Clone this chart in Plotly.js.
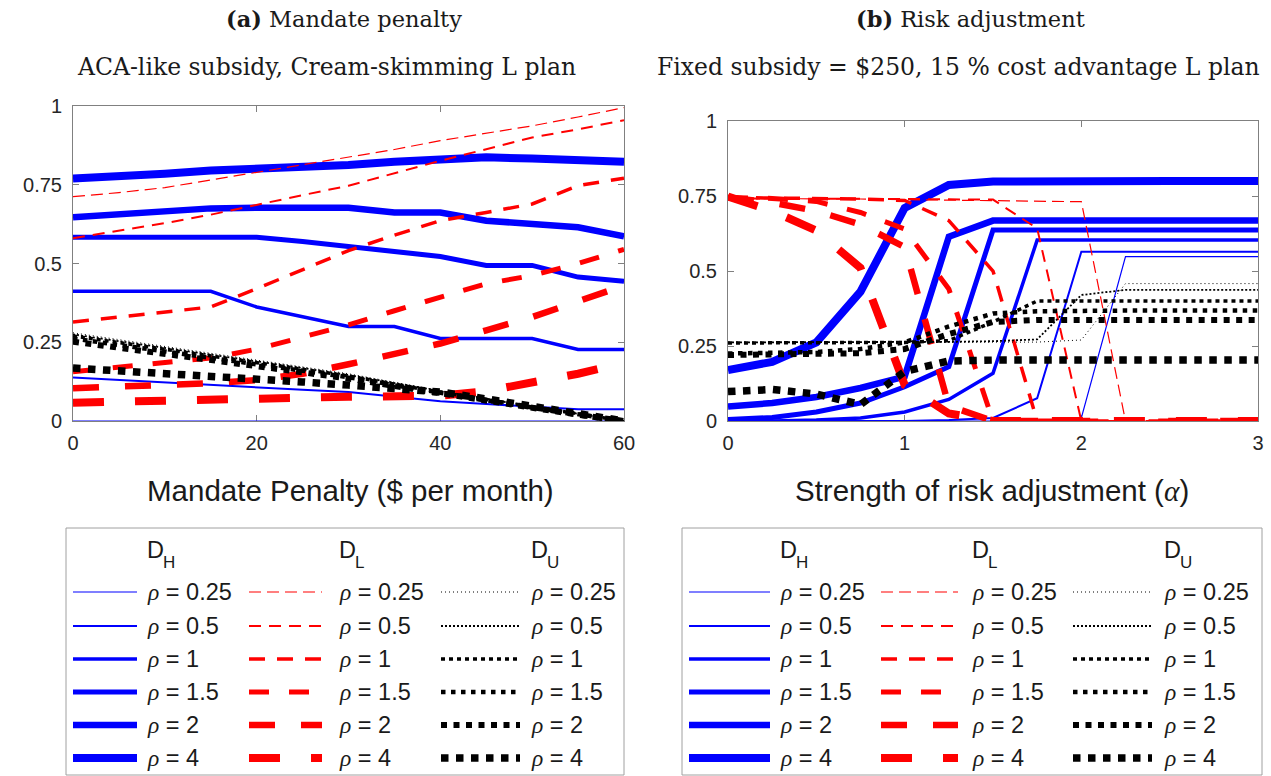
<!DOCTYPE html>
<html>
<head>
<meta charset="utf-8">
<script src="https://cdn.plot.ly/plotly-3.0.1.min.js"></script>
<style>
html,body{margin:0;padding:0;background:#fff;}
#chart{width:1271px;height:776px;}
</style>
</head>
<body>
<div id="chart"></div>
<script>
// ---------------- DATA ----------------
const rhoLabels = ['0.25', '0.5', '1', '1.5', '2', '4'];
const groupLetters = ['H', 'L', 'U'];

// Panel (a): mandate penalty ($ per month)
const penalty = [0, 5, 10, 15, 20, 25, 30, 35, 40, 45, 50, 55, 60];
const penaltyTicks = [0, 20, 40, 60];

const DH_a_025 = [0, 0, 0, 0, 0, 0, 0, 0, 0, 0, 0, 0, 0];
const DH_a_05  = [0.138, 0.130, 0.122, 0.113, 0.105, 0.099, 0.092, 0.078, 0.063, 0.054, 0.045, 0.037, 0.037];
const DH_a_1   = [0.412, 0.412, 0.412, 0.412, 0.362, 0.332, 0.300, 0.300, 0.262, 0.262, 0.262, 0.227, 0.227];
const DH_a_15  = [0.583, 0.583, 0.583, 0.583, 0.583, 0.570, 0.555, 0.540, 0.522, 0.494, 0.494, 0.457, 0.444];
const DH_a_2   = [0.647, 0.655, 0.665, 0.675, 0.677, 0.677, 0.677, 0.662, 0.662, 0.636, 0.625, 0.615, 0.586];
const DH_a_4   = [0.770, 0.775, 0.785, 0.795, 0.800, 0.805, 0.813, 0.823, 0.832, 0.837, 0.833, 0.828, 0.823];

const DL_a_025 = [0.712, 0.725, 0.741, 0.765, 0.790, 0.813, 0.836, 0.862, 0.890, 0.913, 0.937, 0.965, 0.995];
const DL_a_05  = [0.580, 0.603, 0.628, 0.655, 0.687, 0.717, 0.747, 0.787, 0.826, 0.863, 0.900, 0.926, 0.955];
const DL_a_1   = [0.314, 0.330, 0.346, 0.362, 0.420, 0.480, 0.541, 0.590, 0.636, 0.662, 0.689, 0.747, 0.771];
const DL_a_15  = [0.156, 0.170, 0.185, 0.200, 0.228, 0.265, 0.305, 0.350, 0.393, 0.436, 0.462, 0.500, 0.545];
const DL_a_2   = [0.104, 0.108, 0.113, 0.120, 0.130, 0.150, 0.180, 0.215, 0.246, 0.288, 0.330, 0.380, 0.430];
const DL_a_4   = [0.058, 0.060, 0.063, 0.067, 0.070, 0.074, 0.077, 0.077, 0.080, 0.095, 0.120, 0.150, 0.185];

const DU_a_025 = [0.280, 0.258, 0.236, 0.215, 0.194, 0.172, 0.150, 0.123, 0.096, 0.072, 0.048, 0.024, 0.0];
const DU_a_05  = [0.275, 0.254, 0.232, 0.211, 0.190, 0.168, 0.146, 0.120, 0.094, 0.070, 0.046, 0.022, 0.0];
const DU_a_1   = [0.270, 0.249, 0.228, 0.207, 0.186, 0.165, 0.143, 0.117, 0.091, 0.068, 0.045, 0.021, 0.0];
const DU_a_15  = [0.262, 0.242, 0.222, 0.201, 0.181, 0.160, 0.139, 0.114, 0.089, 0.066, 0.043, 0.020, 0.0];
const DU_a_2   = [0.252, 0.233, 0.214, 0.194, 0.175, 0.155, 0.135, 0.111, 0.087, 0.064, 0.042, 0.020, 0.0];
const DU_a_4   = [0.168, 0.160, 0.151, 0.142, 0.133, 0.124, 0.114, 0.104, 0.092, 0.070, 0.047, 0.023, 0.0];

// Panel (b): strength of risk adjustment (alpha)
const alpha = [0, 0.25, 0.5, 0.75, 1, 1.25, 1.5, 1.75, 2, 2.25, 2.5, 2.75, 3];
const alphaTicks = [0, 1, 2, 3];

const DH_b_025 = [0, 0, 0, 0, 0, 0, 0, 0, 0.010, 0.548, 0.548, 0.548, 0.548];
const DH_b_05  = [0, 0, 0, 0, 0, 0.003, 0.010, 0.076, 0.564, 0.564, 0.564, 0.564, 0.564];
const DH_b_1   = [0, 0, 0.003, 0.010, 0.030, 0.072, 0.159, 0.603, 0.603, 0.603, 0.603, 0.603, 0.603];
const DH_b_15  = [0.005, 0.012, 0.030, 0.060, 0.114, 0.181, 0.637, 0.637, 0.637, 0.637, 0.637, 0.637, 0.637];
const DH_b_2   = [0.048, 0.060, 0.080, 0.110, 0.148, 0.614, 0.668, 0.668, 0.668, 0.668, 0.668, 0.668, 0.668];
const DH_b_4   = [0.170, 0.197, 0.262, 0.431, 0.710, 0.787, 0.798, 0.800, 0.800, 0.800, 0.800, 0.800, 0.800];

const DL_b_025 = [0.742, 0.742, 0.741, 0.740, 0.738, 0.736, 0.735, 0.733, 0.731, 0, 0, 0, 0];
const DL_b_05  = [0.742, 0.742, 0.742, 0.741, 0.740, 0.739, 0.738, 0.642, 0, 0, 0, 0, 0];
const DL_b_1   = [0.745, 0.744, 0.742, 0.740, 0.735, 0.668, 0.500, 0, 0, 0, 0, 0, 0];
const DL_b_15  = [0.745, 0.742, 0.732, 0.695, 0.640, 0.440, 0, 0, 0, 0, 0, 0, 0];
const DL_b_2   = [0.745, 0.728, 0.700, 0.655, 0.580, 0.050, 0, 0, 0, 0, 0, 0, 0];
const DL_b_4   = [0.748, 0.700, 0.635, 0.510, 0.120, 0.025, 0, 0, 0, 0, 0, 0, 0];

const DU_b_025 = [0.262, 0.262, 0.262, 0.262, 0.262, 0.262, 0.262, 0.263, 0.270, 0.458, 0.458, 0.458, 0.458];
const DU_b_05  = [0.262, 0.262, 0.262, 0.262, 0.263, 0.264, 0.266, 0.272, 0.420, 0.437, 0.437, 0.437, 0.437];
const DU_b_1   = [0.260, 0.260, 0.260, 0.261, 0.262, 0.268, 0.330, 0.400, 0.400, 0.400, 0.400, 0.400, 0.400];
const DU_b_15  = [0.225, 0.226, 0.230, 0.240, 0.262, 0.315, 0.358, 0.366, 0.368, 0.368, 0.368, 0.368, 0.368];
const DU_b_2   = [0.220, 0.221, 0.222, 0.226, 0.240, 0.290, 0.330, 0.337, 0.337, 0.337, 0.337, 0.337, 0.337];
const DU_b_4   = [0.098, 0.105, 0.090, 0.055, 0.165, 0.200, 0.203, 0.203, 0.203, 0.203, 0.203, 0.203, 0.203];

const yTicks = [0, 0.25, 0.5, 0.75, 1];
const yTickText = ['0', '0.25', '0.5', '0.75', '1'];

// ---------------- STYLE ----------------
const W = 1271, H = 776;
const px = x => x / W;
const py = y => 1 - y / H;

const groups = [
  {color: '#0000ff', widths: [1.2, 2, 3.5, 5, 6.5, 8], dashes: ['solid','solid','solid','solid','solid','solid']},
  {color: '#ff0000', widths: [1.2, 2, 3.5, 5, 6.5, 8], dashes: ['12px,6px','12px,8px','16px,12px','20px,20px','26px,26px','31px,31px']},
  {color: '#000000', widths: [1, 1.8, 3.5, 4.5, 6, 7.5], dashes: ['1px,3px','2px,2px','4px,4px','4.5px,5.5px','6px,6.5px','7.5px,7.5px']}
];

const seriesA = [
  [DH_a_025, DH_a_05, DH_a_1, DH_a_15, DH_a_2, DH_a_4],
  [DL_a_025, DL_a_05, DL_a_1, DL_a_15, DL_a_2, DL_a_4],
  [DU_a_025, DU_a_05, DU_a_1, DU_a_15, DU_a_2, DU_a_4]
];
const seriesB = [
  [DH_b_025, DH_b_05, DH_b_1, DH_b_15, DH_b_2, DH_b_4],
  [DL_b_025, DL_b_05, DL_b_1, DL_b_15, DL_b_2, DL_b_4],
  [DU_b_025, DU_b_05, DU_b_1, DU_b_15, DU_b_2, DU_b_4]
];

const traces = [];
groups.forEach((g, gi) => {
  rhoLabels.forEach((r, i) => {
    traces.push({x: penalty, y: seriesA[gi][i], xaxis: 'x', yaxis: 'y', mode: 'lines',
      line: {color: g.color, width: g.widths[i], dash: g.dashes[i]}, showlegend: false, hoverinfo: 'skip',
      name: 'D' + groupLetters[gi] + ' rho=' + r});
    traces.push({x: alpha, y: seriesB[gi][i], xaxis: 'x2', yaxis: 'y2', mode: 'lines',
      line: {color: g.color, width: g.widths[i], dash: g.dashes[i]}, showlegend: false, hoverinfo: 'skip',
      name: 'D' + groupLetters[gi] + ' rho=' + r});
  });
});

const serif = 'DejaVu Serif, Liberation Serif, serif';
const sans = 'Liberation Sans, Arial, sans-serif';
const tickFont = {family: sans, size: 20, color: '#262626'};
const axisCommon = {
  showline: true, mirror: 'ticks', ticks: 'inside', ticklen: 6, tickwidth: 1,
  linecolor: '#808080', tickcolor: '#808080', linewidth: 1, layer: 'below traces',
  showgrid: false, zeroline: false, tickfont: tickFont, fixedrange: true
};

const annotations = [];
const shapes = [];

function addText(text, x, y, size, family, xanchor) {
  annotations.push({text: text, x: px(x), y: py(y), xref: 'paper', yref: 'paper', showarrow: false,
    xanchor: xanchor || 'center', yanchor: 'middle', font: {family: family, size: size, color: '#1a1a1a'}});
}

addText('<b>(a)</b> Mandate penalty', 344, 19, 22.5, serif);
addText('ACA-like subsidy, Cream-skimming L plan', 326, 67, 23.5, serif);
addText('<b>(b)</b> Risk adjustment', 970, 19, 22.5, serif);
addText('Fixed subsidy = $250, 15 % cost advantage L plan', 958, 67, 23.5, serif);
addText('Mandate Penalty ($ per month)', 350, 490, 29.5, sans);
addText('Strength of risk adjustment (<span style="font-family:Liberation Serif"><i>α</i></span>)', 992, 490, 29.5, sans);

// Legends (custom three-column boxes)
const rowY = [592, 626, 659, 692, 725, 758];
const legends = [
  {box: [66, 528, 624, 775], lines: [[73, 137], [249, 322], [441, 520]], textX: [145, 337, 529]},
  {box: [682, 528, 1262, 775], lines: [[689, 770], [881, 958], [1073, 1152]], textX: [778, 970, 1162]}
];
legends.forEach(lg => {
  shapes.push({type: 'rect', xref: 'paper', yref: 'paper', x0: px(lg.box[0]), x1: px(lg.box[2]),
    y0: py(lg.box[3]), y1: py(lg.box[1]), line: {color: '#a0a0a0', width: 1}, fillcolor: 'rgba(0,0,0,0)'});
  groups.forEach((g, c) => {
    addText('D', lg.textX[c], 550, 23.5, sans, 'left');
    addText(groupLetters[c], lg.textX[c] + 16, 562, 17, sans, 'left');
    rhoLabels.forEach((r, i) => {
      shapes.push({type: 'line', xref: 'paper', yref: 'paper', x0: px(lg.lines[c][0]), x1: px(lg.lines[c][1]),
        y0: py(rowY[i]), y1: py(rowY[i]), line: {color: g.color, width: g.widths[i], dash: g.dashes[i]}});
      addText('<span style="font-family:Liberation Serif"><i>ρ</i></span> = ' + r, lg.textX[c], rowY[i], 23.5, sans, 'left');
    });
  });
});

const layout = {
  width: W, height: H, margin: {l: 0, r: 0, t: 0, b: 0},
  paper_bgcolor: '#ffffff', plot_bgcolor: '#ffffff', showlegend: false,
  xaxis: Object.assign({}, axisCommon, {domain: [px(73), px(624)], range: [0, 60], tickvals: penaltyTicks, anchor: 'y', ticklabelstandoff: 4}),
  yaxis: Object.assign({}, axisCommon, {domain: [py(421), py(106)], range: [0, 1], tickvals: yTicks, ticktext: yTickText, anchor: 'x', ticklabelstandoff: 6}),
  xaxis2: Object.assign({}, axisCommon, {domain: [px(728), px(1258)], range: [0, 3], tickvals: alphaTicks, anchor: 'y2', ticklabelstandoff: 4}),
  yaxis2: Object.assign({}, axisCommon, {domain: [py(421), py(121)], range: [0, 1], tickvals: yTicks, ticktext: yTickText, anchor: 'x2', ticklabelstandoff: 6}),
  annotations: annotations,
  shapes: shapes
};

Plotly.newPlot('chart', traces, layout, {displayModeBar: false, staticPlot: true});
</script>
</body>
</html>
